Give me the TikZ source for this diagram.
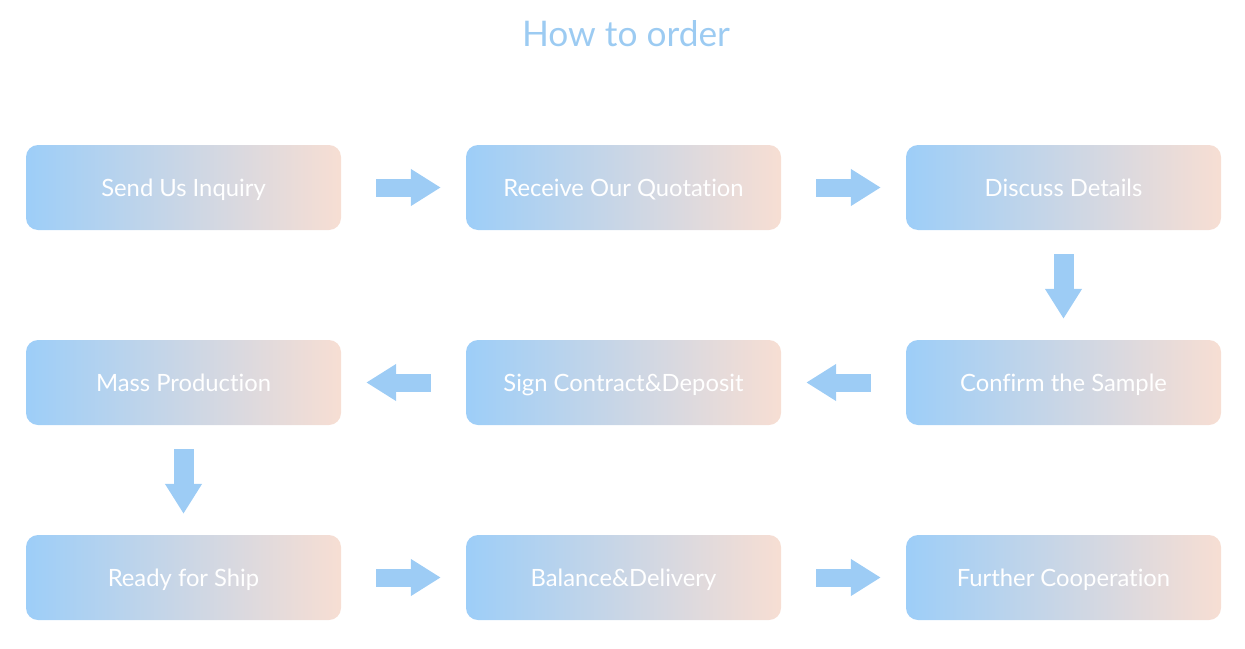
\documentclass[tikz,border=0pt]{standalone}
\usepackage{fontspec}
\setmainfont{Lato}[Ligatures=NoCommon]
\usetikzlibrary{arrows.meta}
\definecolor{boxblue}{RGB}{157,206,248}
\definecolor{boxpeach}{RGB}{247,222,211}
\definecolor{arrowblue}{RGB}{157,204,245}
\definecolor{titleblue}{RGB}{156,203,242}
\tikzset{
    stepbox/.style={rounded corners=12pt, left color=boxblue, right color=boxpeach,
        minimum width=315pt, minimum height=85pt, inner sep=0pt,
        text=white, font=\fontsize{23.8}{28}\selectfont,
        text height=17pt, text depth=0pt},
    blockarrow/.style={draw=arrowblue, line width=18pt,
        -{Triangle[length=30pt,width=35pt]}, shorten <=35pt, shorten >=25pt},
    downarrow/.style={blockarrow, line width=20pt, shorten <=24pt, shorten >=21pt}
}

\begin{document}
\begin{tikzpicture}[x=1pt, y=-1pt]
\useasboundingbox (0,0) rectangle (1245,648);
% title
\node[titleblue, font=\fontsize{35.3}{42}\selectfont, inner sep=0pt,
    text height=25.3pt, text depth=0pt] (title) at (626,33.5) {How to order};

% first row
\node[stepbox] (inquiry) at (183.5,187.5) {Send Us Inquiry};
\node[stepbox] (quotation) at (623.5,187.5) {Receive Our Quotation};
\node[stepbox] (details) at (1063.5,187.5) {Discuss Details};

% second row, right to left
\node[stepbox] (sample) at (1063.5,382.5) {Confirm the Sample};
\node[stepbox] (contract) at (623.5,382.5) {Sign Contract\&Deposit};
\node[stepbox] (production) at (183.5,382.5) {Mass Production};

% third row
\node[stepbox] (ready) at (183.5,577.5) {Ready for Ship};
\node[stepbox] (delivery) at (623.5,577.5) {Balance\&Delivery};
\node[stepbox] (cooperation) at (1063.5,577.5) {Further Cooperation};

% arrows between the steps
\draw[blockarrow] (inquiry) -- (quotation);
\draw[blockarrow] (quotation) -- (details);
\draw[downarrow] (details) -- (sample);
\draw[blockarrow] (sample) -- (contract);
\draw[blockarrow] (contract) -- (production);
\draw[downarrow] (production) -- (ready);
\draw[blockarrow] (ready) -- (delivery);
\draw[blockarrow] (delivery) -- (cooperation);
\end{tikzpicture}
\end{document}
